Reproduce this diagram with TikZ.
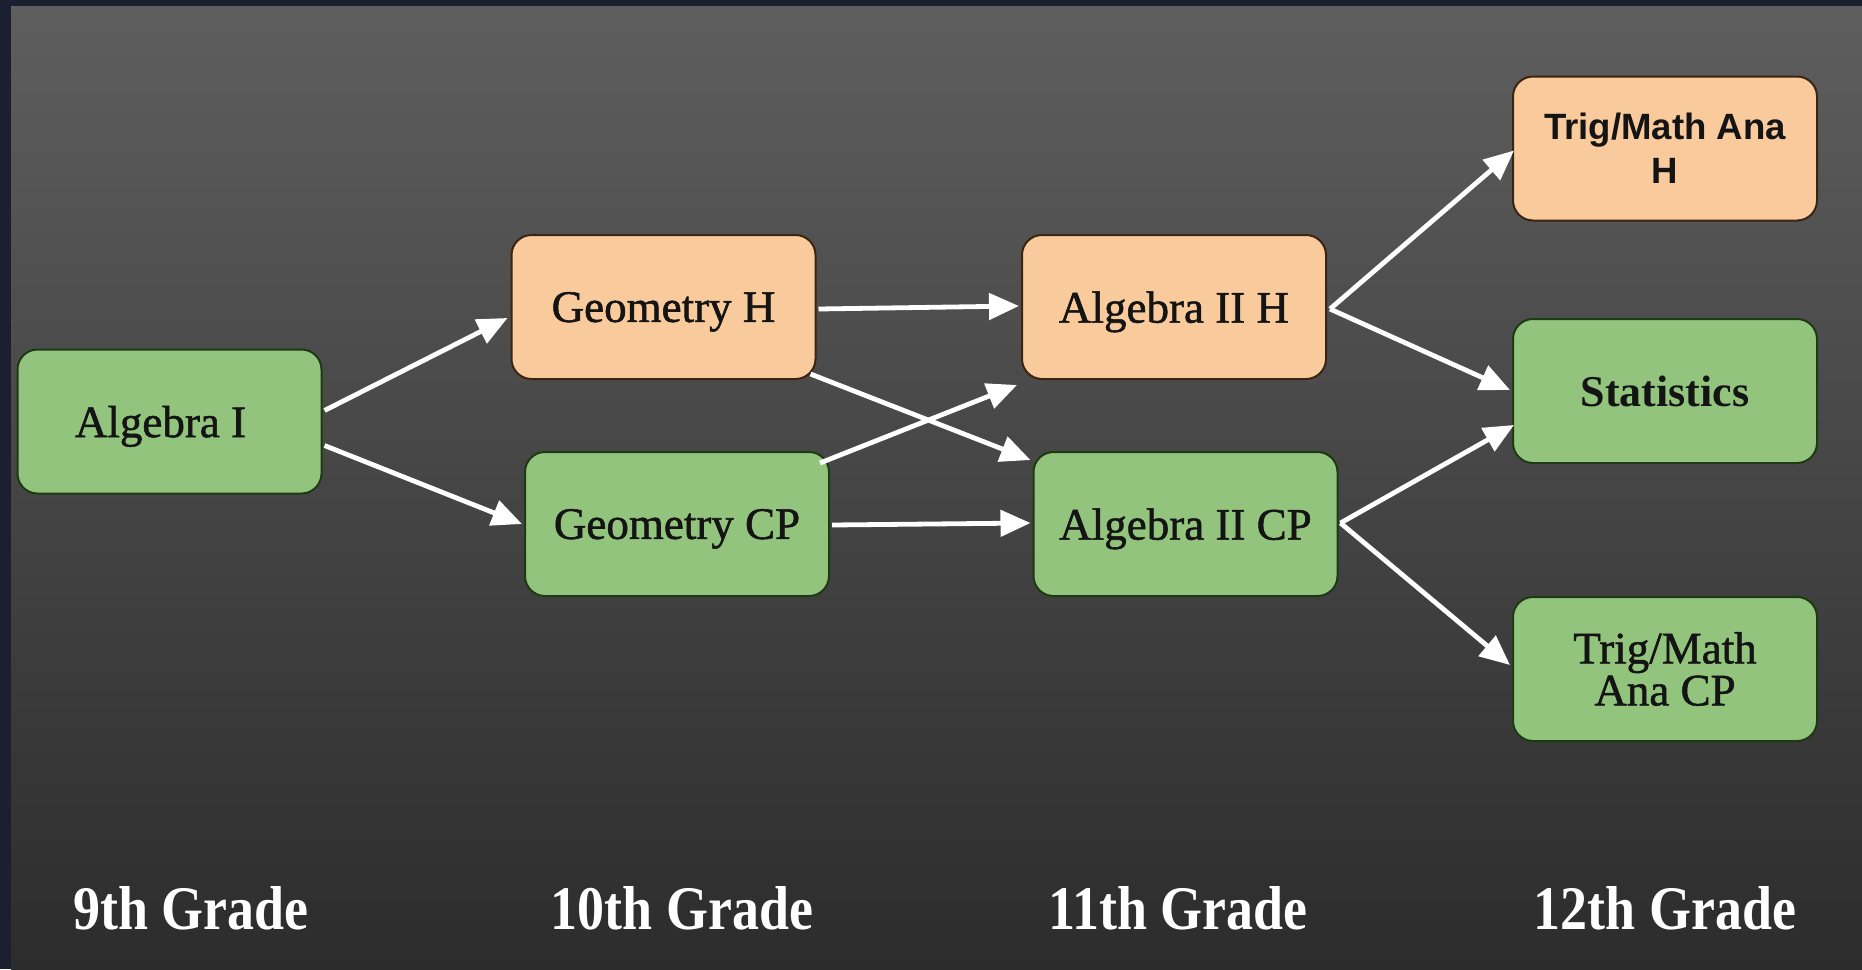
\documentclass[tikz,border=0pt]{standalone}
\usepackage{fontspec}
\usepackage{graphicx}
\setmainfont{Liberation Serif}
\newfontfamily\arialfont{Liberation Sans}
\newfontfamily\semifont[FakeBold=1.2]{Liberation Serif}
\usetikzlibrary{arrows.meta,calc}
\definecolor{framecol}{HTML}{1B2030}
\definecolor{bgtop}{HTML}{5E5E5E}
\definecolor{bgbot}{HTML}{2C2C2C}
\definecolor{greenfill}{HTML}{93C47D}
\definecolor{greenline}{HTML}{1E3A12}
\definecolor{orangefill}{HTML}{F9CB9C}
\definecolor{orangeline}{HTML}{3A2412}
\definecolor{boxtext}{HTML}{141414}
\begin{document}
\begin{tikzpicture}[x=0.5pt,y=-0.5pt,
  course/.style={rounded corners=10pt, minimum width=152pt, minimum height=72pt,
    line width=1pt, align=center, text=boxtext, inner sep=0pt,
    font=\semifont\fontsize{22.5}{21}\selectfont},
  oneline/.style={text depth=0pt},
  gcourse/.style={course, fill=greenfill, draw=greenline},
  ocourse/.style={course, fill=orangefill, draw=orangeline},
  link/.style={draw=white, line width=2.4pt, -{Triangle[length=15pt,width=13pt]}},
  grade/.style={text=white, inner sep=0pt, font=\fontsize{31}{31}\selectfont\bfseries}]
\useasboundingbox (0,0) rectangle (1862,969);
\fill[framecol] (0,0) rectangle (1862,969);
\shade[top color=bgtop, bottom color=bgbot] (11,6) rectangle (1862,969);

\node[gcourse, oneline] (alg1) at (169.5,421.5) {Algebra I\hspace*{9pt}};
\node[ocourse, oneline] (geoH) at (663.5,307) {Geometry H};
\node[gcourse, oneline] (geoCP) at (677,524) {Geometry CP};
\node[ocourse, oneline] (alg2H) at (1174,307) {Algebra II H};
\node[gcourse, oneline] (alg2CP) at (1185.5,524) {Algebra II CP};
\node[ocourse, font=\arialfont\bfseries\fontsize{18.3}{22}\selectfont] (trigH) at (1665,148.5) {Trig/Math Ana\\H};
\node[gcourse, font=\bfseries\fontsize{22}{21}\selectfont] (stat) at (1665,391) {Statistics};
\node[gcourse] (trigCP) at (1665,669) {Trig/Math\\Ana CP};

\draw[link] ($(alg1.east)+(2,-11)$) -- ($(geoH.west)+(-3,11)$);
\draw[link] ($(alg1.east)+(2,24)$) -- ($(geoCP.west)+(-2,0)$);
\draw[link] ($(geoH.east)+(2,2)$) -- ($(alg2H.west)+(-2,-1)$);
\draw[link] ($(geoH.south east)+(-6,-6)$) -- ($(alg2CP.north west)+(-2,9)$);
\draw[link] ($(geoCP.north east)+(-10,12)$) -- ($(alg2H.south west)+(-4,5)$);
\draw[link] ($(geoCP.east)+(2,1)$) -- ($(alg2CP.west)+(-2,-1)$);
\draw[link] ($(alg2H.east)+(3,2)$) -- ($(trigH.west)+(2,2)$);
\draw[link] ($(alg2H.east)+(3,2)$) -- ($(stat.west)+(-2,-1)$);
\draw[link] ($(alg2CP.east)+(2,-1)$) -- ($(stat.west)+(2,34)$);
\draw[link] ($(alg2CP.east)+(2,-1)$) -- ($(trigCP.west)+(-2,-4)$);

\node[grade] (g9) at (191,908) {\scalebox{0.87}[1]{9th Grade}};
\node[grade] (g10) at (682,908) {\scalebox{0.87}[1]{10th Grade}};
\node[grade] (g11) at (1178,908) {\scalebox{0.87}[1]{11th Grade}};
\node[grade] (g12) at (1665,908) {\scalebox{0.87}[1]{12th Grade}};
\end{tikzpicture}
\end{document}
